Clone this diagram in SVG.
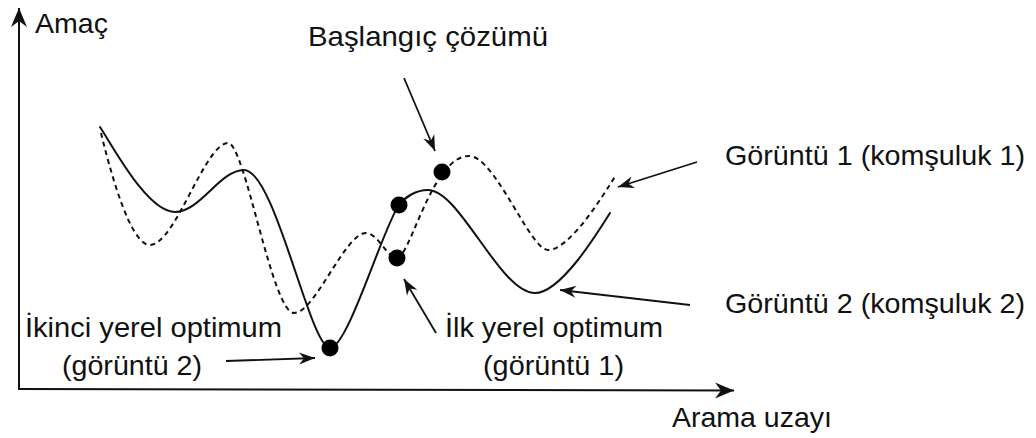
<svg xmlns="http://www.w3.org/2000/svg" width="1036" height="438" viewBox="0 0 1036 438">
<style>
.t{font-family:"Liberation Sans",Arial,sans-serif;font-size:28px;fill:#111}
.ax{stroke:#111;stroke-width:2;fill:none}
.ar{stroke:#111;stroke-width:1.8;fill:none}
.c{stroke:#111;stroke-width:2;fill:none;stroke-linecap:round}
.d{stroke:#111;stroke-width:2;fill:none;stroke-dasharray:5 4}
.dot{fill:#000}
</style>
<defs>
<marker id="ah" viewBox="-17 -7 18 14" refX="0" refY="0" markerWidth="18" markerHeight="14" markerUnits="userSpaceOnUse" orient="auto">
<path d="M0,0 L-16,-6 L-11,0 L-16,6 Z" fill="#111"/>
</marker>
<marker id="axh" viewBox="-20 -9 21 18" refX="0" refY="0" markerWidth="21" markerHeight="18" markerUnits="userSpaceOnUse" orient="auto">
<path d="M0,0 L-19,-8 L-13,0 L-19,8 Z" fill="#111"/>
</marker>
</defs>
<rect width="1036" height="438" fill="#fff"/>
<g id="axes">
<path class="ax" d="M19,389 L19,8" marker-end="url(#axh)"/>
<path class="ax" d="M18,389 L734,390.5" marker-end="url(#axh)"/>
</g>
<g id="curve-solid">
<path class="c" d="M100,127 C115,150 148,212 175,212 C200,212 220,170 244,170 C275,170 310,348 330,348 C348,348 384,224.5 399,205 C405,197 416,190 428,190 C460,190 500,293 535,293 C560,293 595,237 610,213"/>
</g>
<g id="curve-dashed">
<path class="d" d="M101,133 C110,170 130,245 150,245 C175,245 205,143 228,143 C245,143 272,313 294,313 C315,313 345,233 366,233 C378,233 387,258 397,258 C410,258 432,156 469,156 C495,156 530,250 548,250 C570,250 604,194 616,175"/>
</g>
<g id="points">
<circle class="dot" cx="330" cy="348" r="8.5"/>
<circle class="dot" cx="399" cy="205" r="8.5"/>
<circle class="dot" cx="397" cy="258" r="8.5"/>
<circle class="dot" cx="442" cy="172" r="8.5"/>
</g>
<g id="connectors">
<path class="ar" d="M404,78 L435,151" marker-end="url(#ah)"/>
<path class="ar" d="M697,162 L618,187" marker-end="url(#ah)"/>
<path class="ar" d="M690,305 L560,290" marker-end="url(#ah)"/>
<path class="ar" d="M436,333 L404,279" marker-end="url(#ah)"/>
<path class="ar" d="M226,361 L315,358" marker-end="url(#ah)"/>
</g>
<g id="label-amac"><text class="t" x="35" y="33" textLength="73" lengthAdjust="spacingAndGlyphs">Amaç</text></g>
<g id="label-baslangic"><text class="t" x="308" y="46" textLength="240" lengthAdjust="spacingAndGlyphs">Başlangıç çözümü</text></g>
<g id="label-goruntu1"><text class="t" x="725" y="165" textLength="300" lengthAdjust="spacingAndGlyphs">Görüntü 1 (komşuluk 1)</text></g>
<g id="label-goruntu2"><text class="t" x="725" y="313" textLength="300" lengthAdjust="spacingAndGlyphs">Görüntü 2 (komşuluk 2)</text></g>
<g id="label-ikinci">
<text class="t" x="25" y="337" textLength="257" lengthAdjust="spacingAndGlyphs">İkinci yerel optimum</text>
<text class="t" x="62" y="375" textLength="140" lengthAdjust="spacingAndGlyphs">(görüntü 2)</text>
</g>
<g id="label-ilk">
<text class="t" x="445" y="337" textLength="218" lengthAdjust="spacingAndGlyphs">İlk yerel optimum</text>
<text class="t" x="483" y="375" textLength="141" lengthAdjust="spacingAndGlyphs">(görüntü 1)</text>
</g>
<g id="label-arama"><text class="t" x="672" y="427" textLength="160" lengthAdjust="spacingAndGlyphs">Arama uzayı</text></g>
</svg>
